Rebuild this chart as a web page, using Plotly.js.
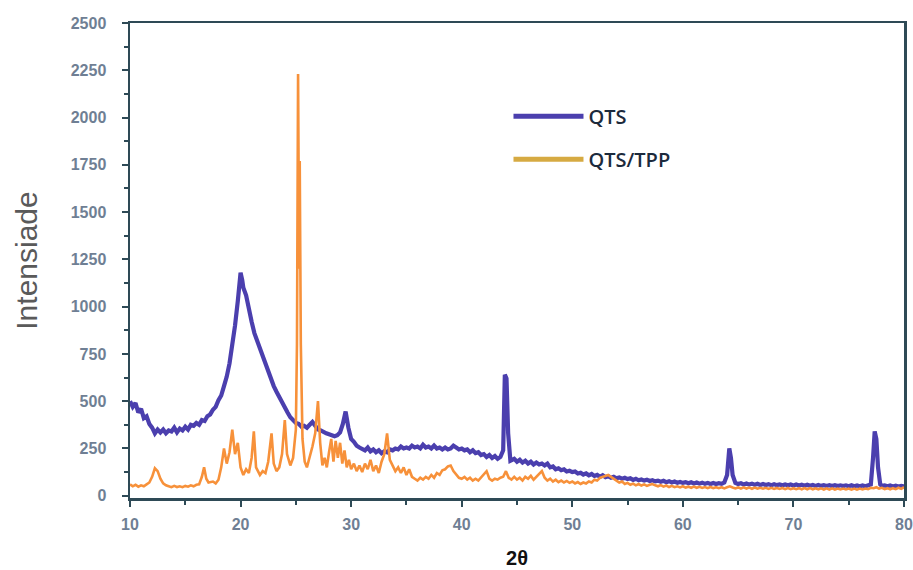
<!DOCTYPE html>
<html>
<head>
<meta charset="utf-8">
<script src="https://cdn.plot.ly/plotly-3.0.1.min.js"></script>
<style>html,body{margin:0;padding:0;background:#fff;}#chart{width:913px;height:570px;}</style>
</head>
<body>
<div id="chart"></div>
<script>
// QTS series (2θ, intensity)
const qtsX = [10.0,10.25,10.5,10.75,11.0,11.25,11.5,11.75,12.0,12.25,12.5,12.75,13.0,13.25,13.5,13.75,14.0,14.25,14.5,14.75,15.0,15.25,15.5,15.75,16.0,16.25,16.5,16.75,17.0,17.25,17.5,17.75,18.0,18.25,18.5,18.75,19.0,19.25,19.5,19.75,20.0,20.15,20.25,20.5,20.75,21.0,21.25,21.5,21.75,22.0,22.25,22.5,22.75,23.0,23.25,23.5,23.75,24.0,24.25,24.5,24.75,25.0,25.25,25.5,25.75,26.0,26.25,26.5,26.75,27.0,27.25,27.5,27.75,28.0,28.25,28.5,28.75,29.0,29.25,29.5,29.75,30.0,30.25,30.5,30.75,31.0,31.25,31.5,31.75,32.0,32.25,32.5,32.75,33.0,33.25,33.5,33.75,34.0,34.25,34.5,34.75,35.0,35.25,35.5,35.75,36.0,36.25,36.5,36.75,37.0,37.25,37.5,37.75,38.0,38.25,38.5,38.75,39.0,39.25,39.5,39.75,40.0,40.25,40.5,40.75,41.0,41.25,41.5,41.75,42.0,42.25,42.5,42.75,43.0,43.25,43.5,43.75,43.9,44.05,44.2,44.4,44.75,45.0,45.25,45.5,45.75,46.0,46.25,46.5,46.75,47.0,47.25,47.5,47.75,48.0,48.25,48.5,48.75,49.0,49.25,49.5,49.75,50.0,50.25,50.5,50.75,51.0,51.25,51.5,51.75,52.0,52.25,52.5,52.75,53.0,53.25,53.5,53.75,54.0,54.25,54.5,54.75,55.0,55.25,55.5,55.75,56.0,56.25,56.5,56.75,57.0,57.25,57.5,57.75,58.0,58.25,58.5,58.75,59.0,59.25,59.5,59.75,60.0,60.25,60.5,60.75,61.0,61.25,61.5,61.75,62.0,62.25,62.5,62.75,63.0,63.25,63.5,63.75,64.0,64.2,64.35,64.5,64.75,65.0,65.25,65.5,65.75,66.0,66.25,66.5,66.75,67.0,67.25,67.5,67.75,68.0,68.25,68.5,68.75,69.0,69.25,69.5,69.75,70.0,70.25,70.5,70.75,71.0,71.25,71.5,71.75,72.0,72.25,72.5,72.75,73.0,73.25,73.5,73.75,74.0,74.25,74.5,74.75,75.0,75.25,75.5,75.75,76.0,76.25,76.5,76.75,77.0,77.2,77.35,77.5,77.65,77.85,78.0,78.25,78.5,78.75,79.0,79.25,79.5,79.75,80.0];
const qtsY = [500,470,490,440,460,410,420,380,360,330,350,335,350,330,345,340,360,335,355,345,365,350,375,370,385,375,400,395,420,430,455,470,505,530,580,630,700,790,900,1030,1180,1140,1100,1060,980,920,860,820,770,730,690,650,620,580,550,520,490,460,440,415,400,385,380,365,370,360,375,390,370,350,345,335,330,325,320,315,320,335,380,445,360,300,285,265,255,250,240,255,235,245,230,240,225,235,230,245,240,250,245,260,250,255,250,265,255,260,250,270,255,260,250,265,250,255,245,255,245,250,265,255,245,250,240,245,230,240,225,230,215,220,205,215,200,210,195,205,240,640,620,330,185,195,180,190,175,185,170,180,165,175,165,170,160,170,150,155,140,145,135,140,128,132,125,128,118,122,112,118,108,115,105,110,100,108,98,103,95,100,92,97,90,95,88,92,84,90,82,86,80,85,78,82,76,80,74,79,72,77,70,75,69,73,68,72,66,71,65,70,64,69,63,68,62,67,62,66,63,70,110,250,200,110,68,62,66,60,65,59,64,58,63,57,62,57,61,56,61,56,60,55,60,55,59,54,59,54,58,53,58,53,57,52,57,52,56,52,56,51,56,51,55,51,55,50,55,50,54,50,54,50,55,60,200,340,300,150,60,52,55,50,54,49,53,49,52,50];

// QTS/TPP series (2θ, intensity)
const tppX = [10.0,10.25,10.5,10.75,11.0,11.25,11.5,11.75,12.0,12.25,12.5,12.75,13.0,13.25,13.5,13.75,14.0,14.25,14.5,14.75,15.0,15.25,15.5,15.75,16.0,16.25,16.5,16.7,16.9,17.1,17.5,17.75,18.0,18.25,18.5,18.75,19.0,19.25,19.5,19.75,20.0,20.25,20.5,20.75,21.0,21.2,21.4,21.75,22.0,22.25,22.5,22.8,23.0,23.25,23.5,23.75,24.0,24.2,24.5,24.75,25.0,25.1,25.2,25.3,25.35,25.45,25.6,25.8,26.0,26.25,26.5,26.75,27.0,27.2,27.4,27.6,27.8,28.0,28.2,28.4,28.6,28.8,29.0,29.2,29.4,29.6,29.8,30.0,30.25,30.5,30.75,31.0,31.25,31.5,31.75,32.0,32.25,32.5,32.75,33.0,33.25,33.5,33.75,34.0,34.25,34.5,34.75,35.0,35.25,35.5,35.75,36.0,36.25,36.5,36.75,37.0,37.25,37.5,37.75,38.0,38.25,38.5,38.75,39.0,39.25,39.5,39.75,40.0,40.25,40.5,40.75,41.0,41.25,41.5,41.75,42.0,42.25,42.5,42.75,43.0,43.25,43.5,43.75,44.0,44.25,44.5,44.75,45.0,45.25,45.5,45.75,46.0,46.25,46.5,46.75,47.0,47.25,47.5,47.75,48.0,48.25,48.5,48.75,49.0,49.25,49.5,49.75,50.0,50.25,50.5,50.75,51.0,51.25,51.5,51.75,52.0,52.25,52.5,52.75,53.0,53.25,53.5,53.75,54.0,54.25,54.5,54.75,55.0,55.25,55.5,55.75,56.0,56.25,56.5,56.75,57.0,57.25,57.5,57.75,58.0,58.25,58.5,58.75,59.0,59.25,59.5,59.75,60.0,60.25,60.5,60.75,61.0,61.25,61.5,61.75,62.0,62.25,62.5,62.75,63.0,63.25,63.5,63.75,64.0,64.25,64.5,64.75,65.0,65.25,65.5,65.75,66.0,66.25,66.5,66.75,67.0,67.25,67.5,67.75,68.0,68.25,68.5,68.75,69.0,69.25,69.5,69.75,70.0,70.25,70.5,70.75,71.0,71.25,71.5,71.75,72.0,72.25,72.5,72.75,73.0,73.25,73.5,73.75,74.0,74.25,74.5,74.75,75.0,75.25,75.5,75.75,76.0,76.25,76.5,76.75,77.0,77.25,77.5,77.75,78.0,78.25,78.5,78.75,79.0,79.25,79.5,79.75,80.0];
const tppY = [60,50,58,48,55,50,60,70,100,145,130,90,65,55,50,45,52,46,50,45,52,48,55,50,58,60,100,150,90,70,75,65,85,150,250,170,230,350,220,280,150,110,140,120,200,340,150,110,130,120,180,330,170,130,150,220,400,220,160,200,350,800,2230,1200,1770,800,300,180,150,200,260,330,500,280,160,200,150,230,300,180,290,200,280,170,240,150,190,140,170,130,160,125,170,140,190,130,160,120,180,220,330,190,160,130,150,120,150,110,140,100,90,80,95,85,100,90,110,95,120,110,135,140,155,160,130,110,95,90,100,85,95,80,90,80,95,110,130,90,80,90,85,95,100,130,95,85,100,85,95,80,100,90,105,85,100,110,130,95,80,90,75,85,72,80,70,78,68,75,65,72,62,70,65,75,70,85,80,95,100,105,110,100,90,80,70,75,62,68,58,64,55,62,54,60,52,58,62,55,50,56,48,54,46,52,45,50,44,50,43,48,42,48,42,47,41,46,40,46,40,45,40,45,39,45,50,44,39,44,38,44,38,43,37,43,37,42,37,42,36,42,36,41,36,41,35,41,35,40,35,40,34,40,34,40,34,39,34,39,33,39,33,39,33,38,33,38,33,38,32,38,32,38,33,38,35,42,40,45,38,42,35,40,34,40,35,42,36,45];

const seriesNames = ["QTS", "QTS/TPP"];
const seriesColors = ["#4b3fae", "#f7913a"];
const legendColors = ["#4b3fae", "#d6aa42"];

const xTickVals = [10,20,30,40,50,60,70,80];
const yTickVals = [0,250,500,750,1000,1250,1500,1750,2000,2250,2500];

const tickFont = {family: "Liberation Sans, Arial, sans-serif", size: 16, color: "#6f7f94", weight: "bold"};
const axisCol = "#2e4a56";

const traces = [
  {x: qtsX, y: qtsY, type: "scatter", mode: "lines", name: seriesNames[0], showlegend: false,
   line: {color: seriesColors[0], width: 4.2}},
  {x: tppX, y: tppY, type: "scatter", mode: "lines", name: seriesNames[1], showlegend: false,
   line: {color: seriesColors[1], width: 2.6}},
  {x: [null], y: [null], type: "scatter", mode: "lines", name: seriesNames[0], legendgroup: "a",
   line: {color: legendColors[0], width: 5}},
  {x: [null], y: [null], type: "scatter", mode: "lines", name: seriesNames[1], legendgroup: "b",
   line: {color: legendColors[1], width: 5}}
];

const layout = {
  width: 913, height: 570,
  margin: {l: 130, r: 9, t: 23, b: 72},
  paper_bgcolor: "#ffffff", plot_bgcolor: "#ffffff",
  showlegend: true,
  legend: {x: 0.489, y: 0.845, xanchor: "left", yanchor: "top", bgcolor: "rgba(0,0,0,0)",
    tracegroupgap: 14, itemwidth: 70,
    font: {family: "Open Sans, Noto Sans, sans-serif", size: 20, color: "#1c2a3c", weight: 600}},
  xaxis: {
    range: [10, 80], tickvals: xTickVals, ticks: "outside", ticklen: 6, tickwidth: 2, tickcolor: axisCol,
    showline: true, linecolor: axisCol, linewidth: 2.5, mirror: true, showgrid: false, zeroline: false,
    tickfont: tickFont, ticklabelstandoff: 4,
    minor: {dtick: 5, tick0: 5, ticks: "outside", ticklen: 4, tickwidth: 2, tickcolor: axisCol, showgrid: false},
    title: {text: "2θ", font: {family: "Liberation Sans, Arial, sans-serif", size: 20, color: "#111", weight: "bold"}, standoff: 20}
  },
  yaxis: {
    range: [-12, 2500], tickvals: yTickVals, ticks: "outside", ticklen: 6, tickwidth: 2, tickcolor: axisCol,
    showline: true, linecolor: axisCol, linewidth: 2.5, mirror: true, showgrid: false, zeroline: false,
    tickfont: tickFont, ticklabelstandoff: 12,
    minor: {dtick: 125, tick0: 125, ticks: "outside", ticklen: 4, tickwidth: 2, tickcolor: axisCol, showgrid: false},
    title: {text: "Intensiade", font: {family: "Liberation Sans, Arial, sans-serif", size: 30, color: "#5a5a5a"}, standoff: 24}
  }
};

Plotly.newPlot("chart", traces, layout, {displayModeBar: false, staticPlot: true});
</script>
</body>
</html>
